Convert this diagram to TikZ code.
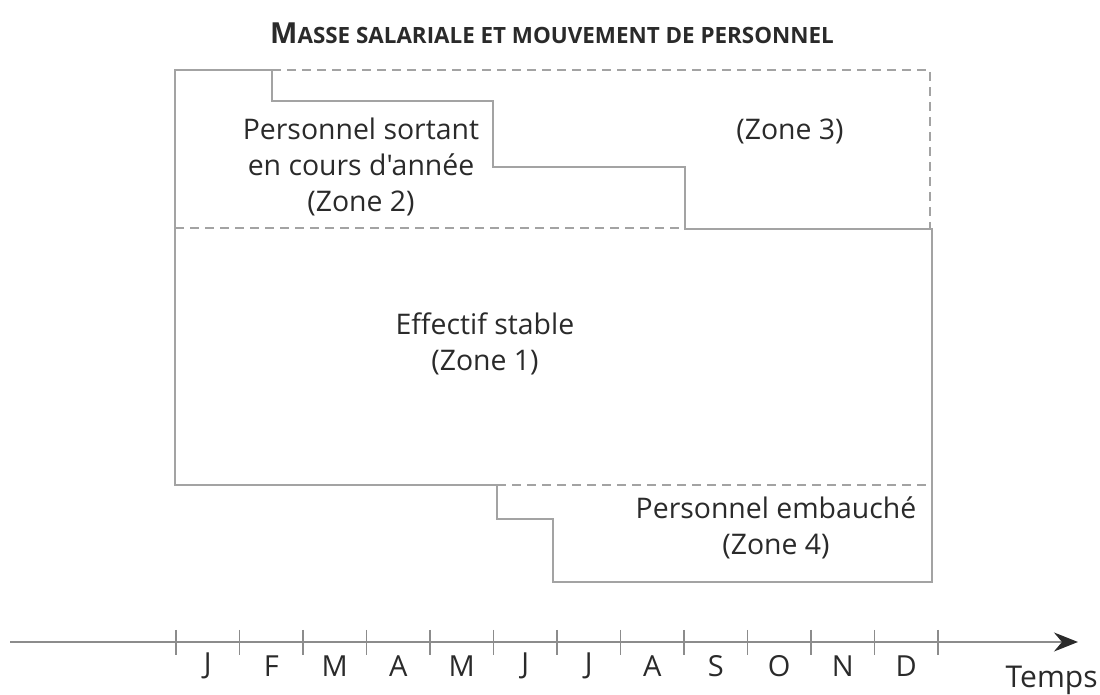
\documentclass[tikz,border=0pt]{standalone}
\usepackage{fontspec}
\setmainfont{Open Sans}[Ligatures=TeXOff]
\usetikzlibrary{arrows.meta}
\definecolor{linegray}{HTML}{A3A3A3}
\definecolor{axisgray}{HTML}{8C8C8C}
\definecolor{txt}{HTML}{2A2A2A}
\begin{document}
\begin{tikzpicture}[x=0.5pt,y=-0.5pt,
  solidline/.style={draw=linegray,line width=0.8pt},
  dashline/.style={draw=linegray,line width=0.8pt,dash pattern=on 4.5pt off 3pt},
  lbl/.style={text=txt,font=\fontsize{14.2}{18}\selectfont,align=center,inner sep=0pt},
  mon/.style={text=txt,font=\fontsize{14.5}{16}\selectfont,inner sep=0pt,anchor=center},
  tick/.style={draw=axisgray,line width=0.7pt},
]
\useasboundingbox (0,0) rectangle (1100,695);
% title
\node[text=txt,inner sep=0pt] (title) at (552,33)
  {\bfseries{\fontsize{14.5}{16}\selectfont M}{\fontsize{11.2}{14}\selectfont ASSE SALARIALE ET MOUVEMENT DE PERSONNEL}};
% key points
\coordinate (tl) at (175,70);
\coordinate (bl) at (175,485);
\coordinate (s0) at (272,70);
\coordinate (s1) at (272,101);
\coordinate (s2) at (493,101);
\coordinate (s3) at (493,167);
\coordinate (s4) at (685,167);
\coordinate (s5) at (685,229);
\coordinate (r1) at (932,229);
\coordinate (r2) at (932,582);
\coordinate (b1) at (553,582);
\coordinate (b2) at (553,519);
\coordinate (b3) at (497,519);
\coordinate (b4) at (497,485);
\coordinate (tr) at (930,70);
\coordinate (trb) at (930,229);
\coordinate (ml) at (175,228);
\coordinate (mr) at (685,228);
\coordinate (br) at (930,485);
% solid outline
\draw[solidline] (s0) -- (tl) -- (bl) -- (b4);
\draw[solidline] (s0) -- (s1) -- (s2) -- (s3) -- (s4) -- (s5) -- (r1) -- (r2) -- (b1) -- (b2) -- (b3) -- (b4);
% dashed lines
\draw[dashline] (s0) -- (tr) -- (trb);
\draw[dashline] (ml) -- (mr);
\draw[dashline] (b4) -- (br);
% labels
\node[lbl] (z2) at (361,167) {Personnel sortant\\en cours d'année\\(Zone 2)};
\node[lbl] (z3) at (790,131) {(Zone 3)};
\node[lbl] (z1) at (485,344) {Effectif stable\\(Zone 1)};
\node[lbl] (z4) at (776,528) {Personnel embauché\\(Zone 4)};
% axis
\coordinate (a0) at (10,642);
\coordinate (a1) at (1078,642);
\draw[draw=axisgray,line width=1pt,-{Stealth[length=12pt,width=9.5pt,inset=4pt,color=txt]}] (a0) -- (a1);
\foreach \i in {0,...,12}{
  \draw[tick] (176+63.5*\i,630) -- (176+63.5*\i,655);
}
\foreach \m [count=\i from 0] in {J,F,M,A,M,J,J,A,S,O,N,D}{
  \node[mon] (m\i) at (207.75+63.5*\i,666) {\m};
}
\node[mon,font=\fontsize{15}{18}\selectfont,anchor=base east] (temps) at (1098,688) {Temps};
\end{tikzpicture}
\end{document}
